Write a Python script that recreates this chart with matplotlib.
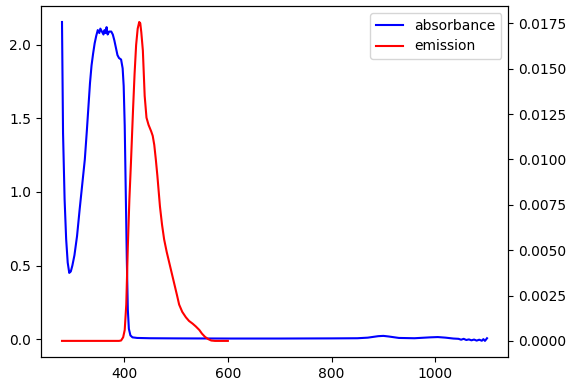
import matplotlib
matplotlib.use("Agg")
import matplotlib.pyplot as plt

# absorbance spectrum (left axis)
abs_wl = [280, 282, 285, 288, 291, 294, 297, 300, 304, 309, 314, 319, 324, 328,
          331, 334, 337, 340, 343, 346, 349, 352, 354, 357, 360, 362, 364, 366,
          368, 371, 375, 378, 381, 384, 387, 390, 394, 397, 399, 401, 403, 405,
          407, 409, 412, 416, 425, 450, 500, 600, 700, 800, 850, 870, 890, 900,
          910, 930, 960, 990, 1005, 1020, 1035, 1045, 1050, 1055, 1060, 1065,
          1070, 1075, 1080, 1085, 1090, 1093, 1096, 1100]
abs_val = [2.155, 1.40, 0.95, 0.68, 0.52, 0.45, 0.46, 0.50, 0.57, 0.70, 0.88,
           1.05, 1.22, 1.42, 1.58, 1.74, 1.86, 1.94, 2.01, 2.06, 2.10, 2.08,
           2.11, 2.09, 2.07, 2.10, 2.08, 2.12, 2.07, 2.09, 2.09, 2.07, 2.03,
           1.98, 1.93, 1.91, 1.90, 1.84, 1.72, 1.45, 1.00, 0.55, 0.20, 0.07,
           0.025, 0.012, 0.008, 0.006, 0.005, 0.004, 0.004, 0.005, 0.006, 0.010,
           0.020, 0.022, 0.018, 0.008, 0.006, 0.012, 0.014, 0.010, 0.004, 0.002,
           -0.004, 0.002, -0.006, -0.002, -0.008, -0.003, -0.010, -0.004,
           -0.011, 0.000, -0.012, 0.006]

# emission spectrum (right axis)
em_wl = [280, 390, 394, 398, 401, 404, 407, 410, 413, 417, 420, 423, 426, 429,
         431, 433, 436, 439.5, 443, 447, 452, 455, 458, 461, 464, 469, 473, 477,
         482, 487, 492, 497, 502, 506, 512, 519, 525, 532, 538, 545, 550, 556,
         562, 568, 575, 600]
em_val = [0.0, 0.0, 0.00002, 0.0002, 0.0006, 0.002, 0.0052, 0.0078, 0.0098,
          0.0127, 0.0147, 0.0163, 0.0172, 0.01757, 0.0175, 0.0170, 0.0160,
          0.0135, 0.0123, 0.0119, 0.01155, 0.0113, 0.0108, 0.0100, 0.0091,
          0.0074, 0.0064, 0.0056, 0.0049, 0.0043, 0.0037, 0.0031, 0.0025,
          0.0020, 0.0016, 0.0013, 0.0011, 0.00095, 0.0008, 0.0006, 0.0004,
          0.00022, 0.0001, 0.00002, 0.0, 0.0]

fig, ax = plt.subplots(figsize=(5.66, 3.78), dpi=100)
fig.subplots_adjust(left=0.072, right=0.898, top=0.984, bottom=0.056)

l1, = ax.plot(abs_wl, abs_val, color="blue", label="absorbance")
ax2 = ax.twinx()
l2, = ax2.plot(em_wl, em_val, color="red", label="emission")

ax.set_xticks([400, 600, 800, 1000])
ax2.legend(handles=[l1, l2], loc="upper right")

fig.savefig("out.png", dpi=100)
